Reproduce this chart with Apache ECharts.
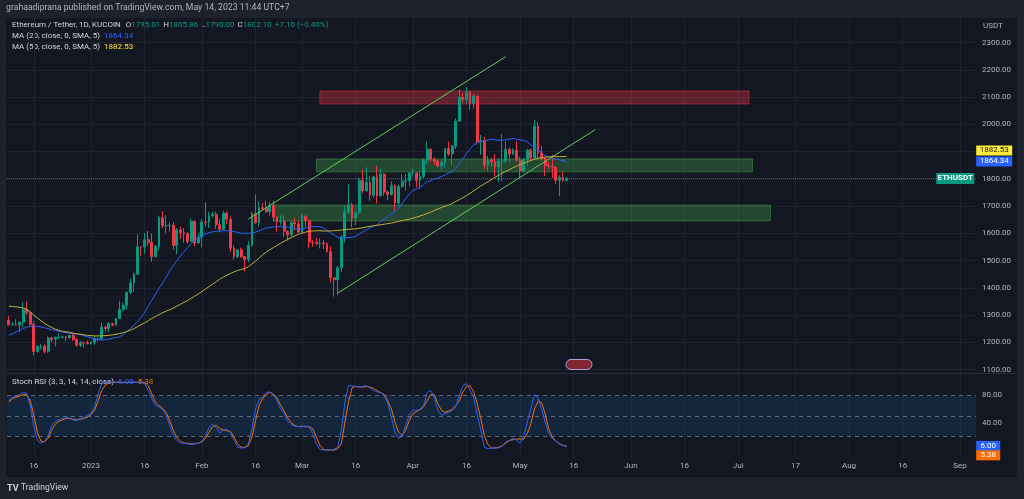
<!DOCTYPE html>
<html><head><meta charset="utf-8">
<script src="https://cdn.jsdelivr.net/npm/echarts/dist/echarts.min.js"></script>
<style>html,body{margin:0;padding:0;background:#1e222d;}#c{width:1024px;height:499px;}</style>
</head><body><div id="c"></div><script>
// ---- data (daily ETH/USDT, 2022-12-09 .. 2023-05-14) ----
const opens = [1281,1265,1265,1264,1275,1320,1309,1266,1167,1185,1186,1168,1216,1212,1218,1219,1220,1218,1226,1212,1190,1200,1199,
1196,1200,1214,1214,1256,1251,1269,1264,1288,1321,1336,1383,1419,1451,1551,1550,1577,1567,1515,1553,1658,1628,1628,1630,1556,1613,1603,1599,1571,1645,1565,
1586,1642,1641,1665,1670,1632,1615,1674,1652,1546,1515,1540,1515,1505,1556,1673,1640,1694,1692,1680,1703,1660,1643,1645,1608,1595,1640,1635,
1605,1663,1647,1569,1567,1564,1565,1562,1534,1437,1430,1474,1587,1680,1705,1656,1676,1794,1756,1787,1740,1808,1738,1818,1752,1743,1775,1712,1772,1792,1794,
1822,1822,1795,1809,1869,1909,1872,1865,1848,1860,1911,1892,1920,2012,2099,2092,2120,2078,2104,1937,1941,1850,1870,1863,1844,1866,1866,1908,1892,1905,
1869,1830,1871,1906,1877,1993,1896,1874,1849,1847,1843,1795,1805,1795.01];
const highs = [1297,1276,1285,1276,1348,1352,1311,1278,1190,1194,1193,1222,1221,1222,1234,1225,1223,1228,1236,1215,1204,1202,1207,
1204,1223,1218,1272,1260,1275,1272,1290,1353,1347,1387,1434,1456,1596,1553,1601,1609,1600,1558,1664,1681,1667,1641,1642,1620,1625,1620,1605,1655,1647,1601,
1652,1715,1679,1680,1680,1652,1683,1681,1662,1555,1541,1548,1517,1571,1680,1743,1717,1712,1720,1715,1720,1661,1667,1665,1612,1645,1657,1647,
1671,1667,1648,1575,1585,1581,1575,1567,1553,1439,1482,1593,1700,1780,1713,1685,1804,1834,1843,1813,1812,1848,1837,1822,1758,1791,1781,1779,1817,1819,1825,
1838,1823,1829,1875,1937,1912,1880,1872,1869,1914,1937,1925,2022,2128,2115,2137,2121,2112,2105,1961,1955,1884,1876,1891,1873,1965,1937,1916,1913,1939,
1880,1878,1909,1912,2016,2009,1922,1880,1862,1889,1845,1814,1826,1805.86];
const lows = [1262,1261,1262,1238,1256,1301,1262,1153,1162,1173,1159,1162,1200,1185,1211,1215,1205,1212,1205,1185,1183,1181,1192,
1192,1191,1204,1207,1241,1236,1259,1261,1286,1314,1321,1378,1385,1448,1518,1526,1553,1496,1512,1538,1620,1600,1607,1540,1524,1580,1566,1563,1568,1553,1564,
1550,1625,1620,1659,1617,1604,1612,1635,1532,1504,1510,1510,1461,1495,1551,1635,1625,1685,1676,1666,1643,1606,1630,1587,1574,1590,1611,1602,
1602,1625,1545,1552,1556,1545,1543,1530,1420,1368,1374,1458,1566,1672,1623,1631,1672,1747,1755,1720,1731,1710,1735,1739,1722,1738,1685,1700,1768,1758,1772,
1809,1770,1765,1802,1857,1862,1851,1842,1830,1839,1885,1851,1910,2010,2080,2078,2053,2058,1926,1889,1835,1830,1844,1809,1789,1792,1858,1862,1888,1865,
1801,1822,1849,1867,1874,1871,1866,1811,1836,1804,1782,1737,1790,1790.00];
const closes = [1265,1265,1264,1275,1320,1309,1266,1167,1185,1186,1168,1216,1212,1218,1219,1220,1218,1226,1212,1190,1200,1199,1196,
1200,1214,1214,1256,1251,1269,1264,1288,1321,1336,1383,1419,1451,1551,1550,1577,1567,1515,1553,1658,1628,1628,1630,1556,1613,1603,1599,1571,1645,1565,1586,
1642,1641,1665,1670,1632,1615,1674,1652,1546,1515,1540,1515,1505,1556,1673,1640,1694,1692,1680,1703,1660,1643,1645,1608,1595,1640,1635,1605,
1663,1647,1569,1567,1564,1565,1562,1534,1437,1430,1474,1587,1680,1705,1656,1676,1794,1756,1787,1740,1808,1738,1818,1752,1743,1775,1712,1772,1792,1794,1822,
1822,1795,1809,1869,1909,1872,1865,1848,1860,1911,1892,1920,2012,2099,2092,2120,2078,2104,1937,1941,1850,1870,1863,1844,1866,1866,1908,1892,1905,1869,
1830,1871,1906,1877,1993,1896,1874,1849,1847,1843,1795,1805,1795,1802.10];
const ma20 = [1226,1232,1238,1245,1251,1256,1259,1260,1259,1257,
1254,1250,1247,1244,1241,1238,1236,1234,1232,1231,
1229,1225,1221,1217,1213,1210,1209,1210,1212,1215,
1218,1221,1230,1240,1251,1264,1278,1292,1310,1333,
1355,1377,1398,1418,1440,1462,1482,1500,1517,1533,
1548,1562,1574,1584,1592,1598,1603,1606,1608,1609,
1610,1610,1609,1607,1604,1601,1600,1601,1602,1605,
1610,1615,1620,1622,1624,1625,1625,1624,1623,1620,
1617,1615,1617,1620,1623,1625,1626,1625,1620,1612,
1602,1594,1586,1582,1583,1585,1586,1590,1598,1605,
1613,1620,1627,1631,1644,1653,1662,1673,1680,1692,
1710,1728,1745,1757,1763,1768,1779,1790,1794,1800,
1803,1809,1814,1822,1827,1840,1857,1873,1894,1909,
1925,1932,1938,1939,1943,1946,1944,1942,1942,1944,
1946,1949,1946,1943,1941,1936,1924,1920,1908,1898,
1885,1881,1876,1873,1870,1867,1864.34];
const ma50 = [1333,1332,1331,1329,1327,1322,1312,1300,1290,1280,
1270,1262,1255,1249,1244,1241,1239,1237,1234,1232,
1230,1228,1226,1225,1224,1224,1224,1225,1226,1228,
1230,1233,1236,1240,1245,1251,1258,1265,1272,1280,
1288,1295,1302,1309,1315,1320,1326,1333,1340,1347,
1354,1362,1370,1378,1387,1396,1405,1414,1423,1432,
1440,1447,1453,1459,1464,1468,1471,1478,1488,1498,
1510,1521,1532,1540,1548,1556,1564,1571,1578,1585,
1591,1597,1601,1605,1608,1609,1610,1610,1609,1609,
1609,1610,1611,1612,1614,1615,1616,1617,1619,1621,
1624,1626,1628,1630,1632,1634,1636,1638,1641,1644,
1647,1650,1652,1656,1660,1664,1668,1673,1678,1684,
1690,1695,1700,1704,1710,1717,1724,1731,1739,1747,
1756,1765,1774,1782,1790,1798,1806,1814,1821,1828,
1834,1841,1847,1853,1858,1863,1868,1872,1876,1878,
1880,1881,1882,1882,1882,1882,1882.53];
const stochK = [72,77,79,81,84,83,65,36,14,10,
13,21,36,42,44,46,47,47,44,43,
46,47,51,53,63,82,97,99,99,99,
99,99,99,99,99,99,99,99,97,87,
75,65,63,59,51,36,21,14,10,10,
9,8,9,10,13,21,33,38,33,25,
29,30,26,14,4,3,3,9,31,60,
74,77,84,85,81,72,60,53,42,37,
35,34,
34,35,34,24,9,1,0,0,0,1,
4,29,70,94,94,93,92,93,94,91,
87,85,84,80,68,48,26,17,20,36,
51,58,58,59,65,84,87,77,58,51,
53,55,58,63,80,94,97,87,77,51,
29,4,2,3,3,3,6,12,14,17,
14,10,19,41,60,81,76,60,41,24,
17,13,9,6,6.00];
const stochD = [70,75,77,79,81,81,72,51,26,13,
12,17,29,38,42,44,46,46,45,44,
45,46,48,52,58,72,87,95,98,99,
99,99,99,99,99,99,99,99,99,94,
82,70,65,61,55,43,29,18,13,10,
10,9,9,10,12,17,26,34,36,31,
29,28,27,19,9,4,4,6,19,43,
65,75,81,84,82,76,66,57,47,40,
36,34,
35,34,34,31,19,7,1,0,0,0,
2,9,41,70,91,93,92,92,93,92,
90,87,84,81,72,60,41,26,21,29,
43,53,56,59,63,72,81,81,68,58,
55,57,59,65,72,85,93,94,85,68,
46,21,8,3,3,4,6,10,14,15,
16,16,16,24,38,60,71,69,53,31,
19,13,9,7,5.38];
const tickDates = ['2022-12-16','2023-01-01','2023-01-16','2023-02-01','2023-02-16','2023-03-01','2023-03-16','2023-04-01','2023-04-16','2023-05-01','2023-05-16','2023-06-01','2023-06-16','2023-07-01','2023-07-17','2023-08-01','2023-08-16','2023-09-01'];
const tickLabels = ['16','2023','16','Feb','16','Mar','16','Apr','16','May','16','Jun','16','Jul','17','Aug','16','Sep'];
// drawings (date, price)
const channelUpper = [['2023-02-14',1653],['2023-04-27',2249]];
const channelLower = [['2023-03-11',1381],['2023-05-22',1981]];
const redZone = [['2023-03-06',2123],['2023-07-04',2075]];
const greenZone1 = [['2023-03-05',1873],['2023-07-05',1826]];
const greenZone2 = [['2023-02-21',1704],['2023-07-10',1646]];
const lastPrice = 1802.10;

// ---- category axis: one slot per day ----
const start = Date.UTC(2022, 11, 9);
const categories = [];
for (let i = 0; i < 271; i++) categories.push(new Date(start + i * 86400000).toISOString().slice(0, 10));
const lastCat = categories[categories.length - 1];
const candles = opens.map((o, i) => [o, closes[i], lows[i], highs[i]]);

const FONT = 'Roboto';
const UP = '#089981', DOWN = '#f23645', LBL = '#d1d4dc';
const isTick = (idx, v) => tickDates.indexOf(v) >= 0;

// legend rows laid out as plain text pieces, measured with the real font
const mctx = document.createElement('canvas').getContext('2d');
mctx.font = '8px ' + FONT;
function legendRow(x, top, parts) {
  const out = [];
  let cx = x;
  parts.forEach(([t, c, gap]) => {
    out.push({type: 'text', left: cx, top: top, style: {text: t, fill: c, fontSize: 8, fontFamily: FONT}});
    cx += mctx.measureText(t).width + (gap || 0);
  });
  return out;
}
const legendEls = [].concat(
  legendRow(12, 21, [['Ethereum / Tether, 1D, KUCOIN', LBL, 5], ['O', LBL], ['1795.01', UP, 3], ['H', LBL], ['1805.86', UP, 3],
                     ['L', LBL], ['1790.00', UP, 3], ['C', LBL], ['1802.10', UP, 3], ['+7.10 (+0.40%)', UP]]),
  legendRow(12, 32, [['MA (20, close, 0, SMA, 5)', LBL, 4], ['1864.34', '#2962ff']]),
  legendRow(12, 43, [['MA (50, close, 0, SMA, 5)', LBL, 4], ['1882.53', '#ffeb3b']]),
  legendRow(12, 378, [['Stoch RSI (3, 3, 14, 14, close)', LBL, 4], ['6.00', '#2962ff', 4], ['5.38', '#ff6d00']])
);

const chart = echarts.init(document.getElementById('c'), null, {renderer: 'canvas'});
chart.setOption({
  animation: false,
  backgroundColor: '#1e222d',
  textStyle: {fontFamily: FONT},
  grid: [
    {left: 7, width: 969, top: 42.7, height: 327, outerBoundsMode: 'none'},
    {left: 7, width: 969, top: 381.6, height: 68.4, outerBoundsMode: 'none'},
    {left: 8.788, width: 965.42, top: 18, height: 440, outerBoundsMode: 'none'}
  ],
  xAxis: [
    {type: 'category', gridIndex: 0, data: categories, boundaryGap: true,
     axisLine: {show: false}, axisTick: {show: false}, axisLabel: {show: false}, splitLine: {show: false}},
    {type: 'category', gridIndex: 1, data: categories, boundaryGap: true,
     axisLine: {show: false}, axisTick: {show: false}, splitLine: {show: false},
     axisLabel: {show: true, interval: isTick, hideOverlap: false, margin: 12, color: '#b2b5be', fontSize: 8, fontFamily: FONT,
       formatter: v => tickLabels[tickDates.indexOf(v)] || ''}},
    {type: 'category', gridIndex: 2, data: categories, boundaryGap: false,
     axisLine: {show: false}, axisTick: {show: false}, axisLabel: {show: false},
     splitLine: {show: true, interval: isTick, lineStyle: {color: '#1f2330', width: 1}}}
  ],
  yAxis: [
    {type: 'value', gridIndex: 0, position: 'right', min: 1100, max: 2300, interval: 100,
     axisLine: {show: false}, axisTick: {show: false},
     axisLabel: {color: '#b2b5be', fontSize: 8, fontFamily: FONT, margin: 6, formatter: v => v.toFixed(2)},
     splitLine: {show: true, lineStyle: {color: '#1f2330', width: 1}}},
    {type: 'value', gridIndex: 1, position: 'right', min: 0, max: 100, interval: 40,
     axisLine: {show: false}, axisTick: {show: false}, splitLine: {show: false},
     axisLabel: {color: '#b2b5be', fontSize: 8, fontFamily: FONT, margin: 6,
       formatter: v => (v === 40 || v === 80) ? v.toFixed(2) : ''}},
    {type: 'value', gridIndex: 2, min: 0, max: 1, show: false}
  ],
  graphic: [
    {type: 'rect', z: -10, shape: {x: 6, y: 18, width: 1011, height: 459}, style: {fill: '#131722'}},
    {type: 'line', z: 10, shape: {x1: 6, y1: 373.5, x2: 1017, y2: 373.5}, style: {stroke: '#2a2e39', lineWidth: 1}},
    {type: 'text', left: 6, top: 3, style: {text: 'grahaadiprana published on TradingView.com, May 14, 2023 11:44 UTC+7', fill: '#b2b5be', fontSize: 8.7, fontFamily: FONT}},
    {type: 'text', left: 983, top: 22, style: {text: 'USDT', fill: '#b2b5be', fontSize: 8, fontFamily: FONT}},
    {type: 'text', left: 7, top: 484, style: {text: 'TV', fill: '#d1d4dc', fontSize: 9, fontWeight: 'bold', fontFamily: FONT}},
    {type: 'text', left: 21, top: 483, style: {text: 'TradingView', fill: '#d1d4dc', fontSize: 8.6, fontFamily: FONT}},
    {type: 'rect', z: 10, shape: {x: 566, y: 359.5, width: 26, height: 10, r: 5}, style: {fill: 'rgba(242,54,69,0.5)', stroke: '#b39ddb', lineWidth: 1}}
  ].concat(legendEls),
  series: [
    {type: 'candlestick', xAxisIndex: 0, yAxisIndex: 0, data: candles, barWidth: '65%',
     itemStyle: {color: UP, color0: DOWN, borderColor: UP, borderColor0: DOWN, borderWidth: 1},
     markArea: {silent: true, data: [
       [{coord: redZone[0], itemStyle: {color: 'rgba(242,54,69,0.34)', borderColor: 'rgba(242,54,69,0.45)', borderWidth: 1}}, {coord: redZone[1]}],
       [{coord: greenZone1[0], itemStyle: {color: 'rgba(76,175,80,0.32)', borderColor: 'rgba(76,175,80,0.45)', borderWidth: 1}}, {coord: greenZone1[1]}],
       [{coord: greenZone2[0], itemStyle: {color: 'rgba(76,175,80,0.32)', borderColor: 'rgba(76,175,80,0.45)', borderWidth: 1}}, {coord: greenZone2[1]}]
     ]},
     markLine: {silent: true, symbol: ['none', 'none'], label: {show: false}, data: [
       [{coord: channelUpper[0], lineStyle: {color: '#5fcf5a', width: 1, type: 'solid'}}, {coord: channelUpper[1]}],
       [{coord: channelLower[0], lineStyle: {color: '#5fcf5a', width: 1, type: 'solid'}}, {coord: channelLower[1]}],
       {yAxis: lastPrice, lineStyle: {color: UP, width: 1, type: 'dotted', opacity: 0.8}}
     ]},
     markPoint: {silent: true, symbol: 'rect', symbolSize: [38, 11],
       itemStyle: {color: UP},
       label: {show: true, color: '#ffffff', fontSize: 8, fontWeight: 'bold', fontFamily: FONT, formatter: 'ETHUSDT'},
       data: [{coord: [lastCat, lastPrice], symbolOffset: [-19, 0]}]}
    },
    {type: 'line', xAxisIndex: 0, yAxisIndex: 0, data: ma20, showSymbol: false, clip: false,
     lineStyle: {color: '#2962ff', width: 1}, z: 4,
     markPoint: {silent: true, symbol: 'rect', symbolSize: [36, 10], itemStyle: {color: '#2962ff'},
       label: {show: true, color: '#ffffff', fontSize: 8, fontFamily: FONT, formatter: '1864.34'},
       data: [{coord: [lastCat, 1864.34], symbolOffset: [20, 0]}]}},
    {type: 'line', xAxisIndex: 0, yAxisIndex: 0, data: ma50, showSymbol: false, clip: false,
     lineStyle: {color: '#c4b13a', width: 1}, z: 4,
     markPoint: {silent: true, symbol: 'rect', symbolSize: [36, 10], itemStyle: {color: '#ffeb3b'},
       label: {show: true, color: '#131722', fontSize: 8, fontFamily: FONT, formatter: '1882.53'},
       data: [{coord: [lastCat, 1882.53], symbolOffset: [20, -6]}]}},
    {type: 'line', xAxisIndex: 1, yAxisIndex: 1, data: stochK, showSymbol: false, clip: false,
     lineStyle: {color: '#2962ff', width: 1}, z: 4,
     markArea: {silent: true, itemStyle: {color: 'rgba(33,150,243,0.12)'}, data: [[{yAxis: 20}, {yAxis: 80}]]},
     markLine: {silent: true, symbol: ['none', 'none'], label: {show: false},
       lineStyle: {color: '#787b86', width: 1, type: [4, 4], opacity: 0.8},
       data: [{yAxis: 80}, {yAxis: 50}, {yAxis: 20}]},
     markPoint: {silent: true, symbol: 'rect', symbolSize: [24, 10], itemStyle: {color: '#2962ff'},
       label: {show: true, color: '#ffffff', fontSize: 8, fontFamily: FONT, formatter: '6.00'},
       data: [{coord: [lastCat, 6.00], symbolOffset: [14, 0]}]}},
    {type: 'line', xAxisIndex: 1, yAxisIndex: 1, data: stochD, showSymbol: false, clip: false,
     lineStyle: {color: '#ff6d00', width: 1}, z: 3,
     markPoint: {silent: true, symbol: 'rect', symbolSize: [24, 10], itemStyle: {color: '#ff6d00'},
       label: {show: true, color: '#ffffff', fontSize: 8, fontFamily: FONT, formatter: '5.38'},
       data: [{coord: [lastCat, 5.38], symbolOffset: [14, 9]}]}}
  ]
});
</script></body></html>
